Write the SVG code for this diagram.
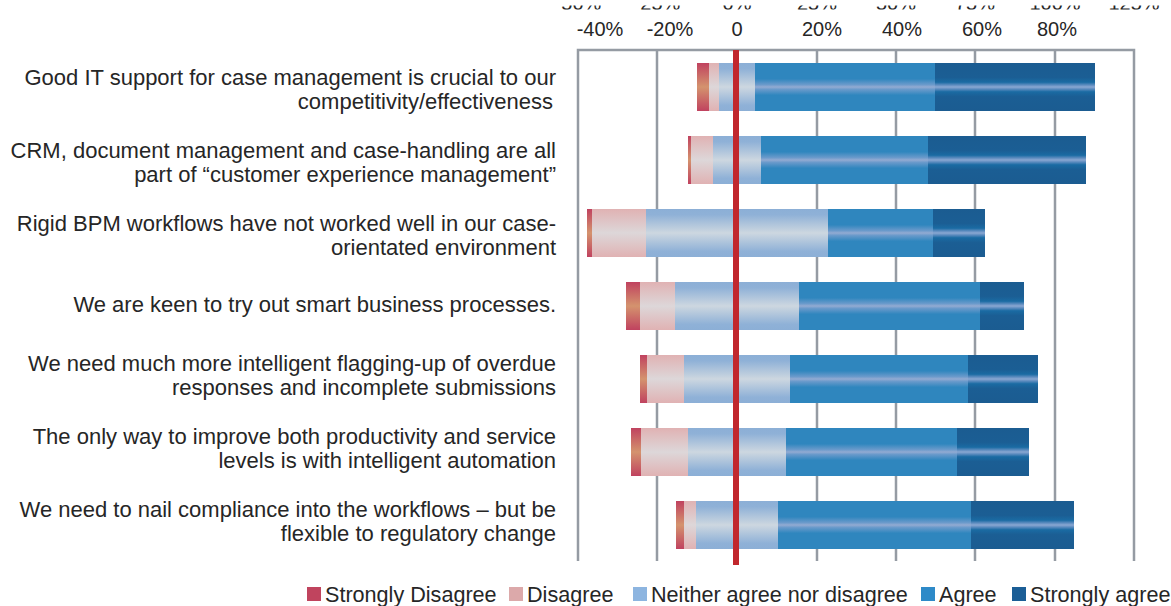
<svg xmlns="http://www.w3.org/2000/svg" width="1171" height="606" viewBox="0 0 1171 606">
<defs>
<linearGradient id="gSD" x1="0" y1="0" x2="0" y2="1">
<stop offset="0" stop-color="#c0425f"/><stop offset="0.5" stop-color="#d4936e"/><stop offset="1" stop-color="#c0425f"/>
</linearGradient>
<linearGradient id="gD" x1="0" y1="0" x2="0" y2="1">
<stop offset="0" stop-color="#e0b2b3"/><stop offset="0.5" stop-color="#ddd7d9"/><stop offset="1" stop-color="#e0b2b3"/>
</linearGradient>
<linearGradient id="gN" x1="0" y1="0" x2="0" y2="1">
<stop offset="0" stop-color="#8cafd6"/><stop offset="0.12" stop-color="#8fb1d7"/><stop offset="0.5" stop-color="#cdd7e0"/><stop offset="0.88" stop-color="#8fb1d7"/><stop offset="1" stop-color="#8cafd6"/>
</linearGradient>
<linearGradient id="gA" x1="0" y1="0" x2="0" y2="1">
<stop offset="0" stop-color="#2f86be"/><stop offset="0.33" stop-color="#2f86be"/><stop offset="0.45" stop-color="#6a9acb"/><stop offset="0.5" stop-color="#93abd2"/><stop offset="0.55" stop-color="#6a9acb"/><stop offset="0.67" stop-color="#2f86be"/><stop offset="1" stop-color="#2f86be"/>
</linearGradient>
<linearGradient id="gSA" x1="0" y1="0" x2="0" y2="1">
<stop offset="0" stop-color="#1b5c91"/><stop offset="0.3" stop-color="#1b5e94"/><stop offset="0.4" stop-color="#1a6ba3"/><stop offset="0.46" stop-color="#5f8dc0"/><stop offset="0.5" stop-color="#8aa8d2"/><stop offset="0.54" stop-color="#5f8dc0"/><stop offset="0.6" stop-color="#1a6ba3"/><stop offset="0.7" stop-color="#1b5e94"/><stop offset="1" stop-color="#1b5c91"/>
</linearGradient>
<clipPath id="topclip"><rect x="0" y="5.5" width="1171" height="4"/></clipPath>
</defs>
<style>
text{font-family:"Liberation Sans",Arial,sans-serif;fill:#262626}
.lab{font-size:22px;text-anchor:end}
.ax{font-size:20px;text-anchor:middle}
.leg{font-size:21.6px}
.grid{stroke:#959ba3;stroke-width:2.5;fill:none}
.sd{fill:url(#gSD)}.d{fill:url(#gD)}.n{fill:url(#gN)}.a{fill:url(#gA)}.sa{fill:url(#gSA)}
</style>

<g id="top-axis-fragments" clip-path="url(#topclip)">
<text class="ax" x="578" y="9.5">-50%</text>
<text class="ax" x="657" y="9.5">-25%</text>
<text class="ax" x="737" y="9.5">0%</text>
<text class="ax" x="817" y="9.5">25%</text>
<text class="ax" x="896" y="9.5">50%</text>
<text class="ax" x="975" y="9.5">75%</text>
<text class="ax" x="1055" y="9.5">100%</text>
<text class="ax" x="1134" y="9.5">125%</text>
</g>

<g id="axis">
<text class="ax" x="600" y="36">-40%</text>
<text class="ax" x="670" y="36">-20%</text>
<text class="ax" x="737" y="36">0</text>
<text class="ax" x="822" y="36">20%</text>
<text class="ax" x="902" y="36">40%</text>
<text class="ax" x="982" y="36">60%</text>
<text class="ax" x="1057" y="36">80%</text>
<path class="grid" d="M578 561V50H1134V561M657 50V561M817 50V561M896 50V561M975 50V561M1055 50V561"/>
</g>

<g id="row1">
<rect class="sd" x="697" y="63" width="12" height="48"/>
<rect class="d" x="709" y="63" width="10" height="48"/>
<rect class="n" x="719" y="63" width="36" height="48"/>
<rect class="a" x="755" y="63" width="180" height="48"/>
<rect class="sa" x="935" y="63" width="160" height="48"/>
<text class="lab" x="556" y="85">Good IT support for case management is crucial to our</text>
<text class="lab" x="553" y="109">competitivity/effectiveness</text>
</g>
<g id="row2">
<rect class="sd" x="688" y="136" width="3" height="48"/>
<rect class="d" x="691" y="136" width="22" height="48"/>
<rect class="n" x="713" y="136" width="48" height="48"/>
<rect class="a" x="761" y="136" width="167" height="48"/>
<rect class="sa" x="928" y="136" width="158" height="48"/>
<text class="lab" x="556" y="158">CRM, document management and case-handling are all</text>
<text class="lab" x="556" y="182">part of “customer experience management”</text>
</g>
<g id="row3">
<rect class="sd" x="587" y="209" width="5" height="48"/>
<rect class="d" x="592" y="209" width="54" height="48"/>
<rect class="n" x="646" y="209" width="182" height="48"/>
<rect class="a" x="828" y="209" width="105" height="48"/>
<rect class="sa" x="933" y="209" width="52" height="48"/>
<text class="lab" x="556" y="231">Rigid BPM workflows have not worked well in our case-</text>
<text class="lab" x="556" y="255">orientated environment</text>
</g>
<g id="row4">
<rect class="sd" x="626" y="282" width="14" height="48"/>
<rect class="d" x="640" y="282" width="35" height="48"/>
<rect class="n" x="675" y="282" width="124" height="48"/>
<rect class="a" x="799" y="282" width="181" height="48"/>
<rect class="sa" x="980" y="282" width="44" height="48"/>
<text class="lab" x="556" y="312">We are keen to try out smart business processes.</text>
</g>
<g id="row5">
<rect class="sd" x="640" y="355" width="7" height="48"/>
<rect class="d" x="647" y="355" width="37" height="48"/>
<rect class="n" x="684" y="355" width="106" height="48"/>
<rect class="a" x="790" y="355" width="178" height="48"/>
<rect class="sa" x="968" y="355" width="70" height="48"/>
<text class="lab" x="556" y="371">We need much more intelligent flagging-up of overdue</text>
<text class="lab" x="556" y="395">responses and incomplete submissions</text>
</g>
<g id="row6">
<rect class="sd" x="631" y="428" width="10" height="48"/>
<rect class="d" x="641" y="428" width="47" height="48"/>
<rect class="n" x="688" y="428" width="98" height="48"/>
<rect class="a" x="786" y="428" width="171" height="48"/>
<rect class="sa" x="957" y="428" width="72" height="48"/>
<text class="lab" x="556" y="444">The only way to improve both productivity and service</text>
<text class="lab" x="556" y="468">levels is with intelligent automation</text>
</g>
<g id="row7">
<rect class="sd" x="676" y="501" width="8" height="48"/>
<rect class="d" x="684" y="501" width="12" height="48"/>
<rect class="n" x="696" y="501" width="82" height="48"/>
<rect class="a" x="778" y="501" width="193" height="48"/>
<rect class="sa" x="971" y="501" width="103" height="48"/>
<text class="lab" x="556" y="517">We need to nail compliance into the workflows – but be</text>
<text class="lab" x="556" y="541">flexible to regulatory change</text>
</g>

<g id="zero-line">
<rect x="733" y="50" width="6" height="515" fill="#c1272d"/>
</g>

<g id="legend">
<rect x="307" y="587" width="14" height="14" fill="#c0445e"/>
<text class="leg" x="325" y="602">Strongly Disagree</text>
<rect x="509" y="587" width="14" height="14" fill="#dca9aa"/>
<text class="leg" x="527" y="602">Disagree</text>
<rect x="633" y="587" width="14" height="14" fill="#8db5e0"/>
<text class="leg" x="651" y="602">Neither agree nor disagree</text>
<rect x="921" y="587" width="14" height="14" fill="#2e8ac8"/>
<text class="leg" x="939" y="602">Agree</text>
<rect x="1012" y="587" width="14" height="14" fill="#1b5e96"/>
<text class="leg" x="1030" y="602">Strongly agree</text>
</g>
<g id="connectors"/>
</svg>
